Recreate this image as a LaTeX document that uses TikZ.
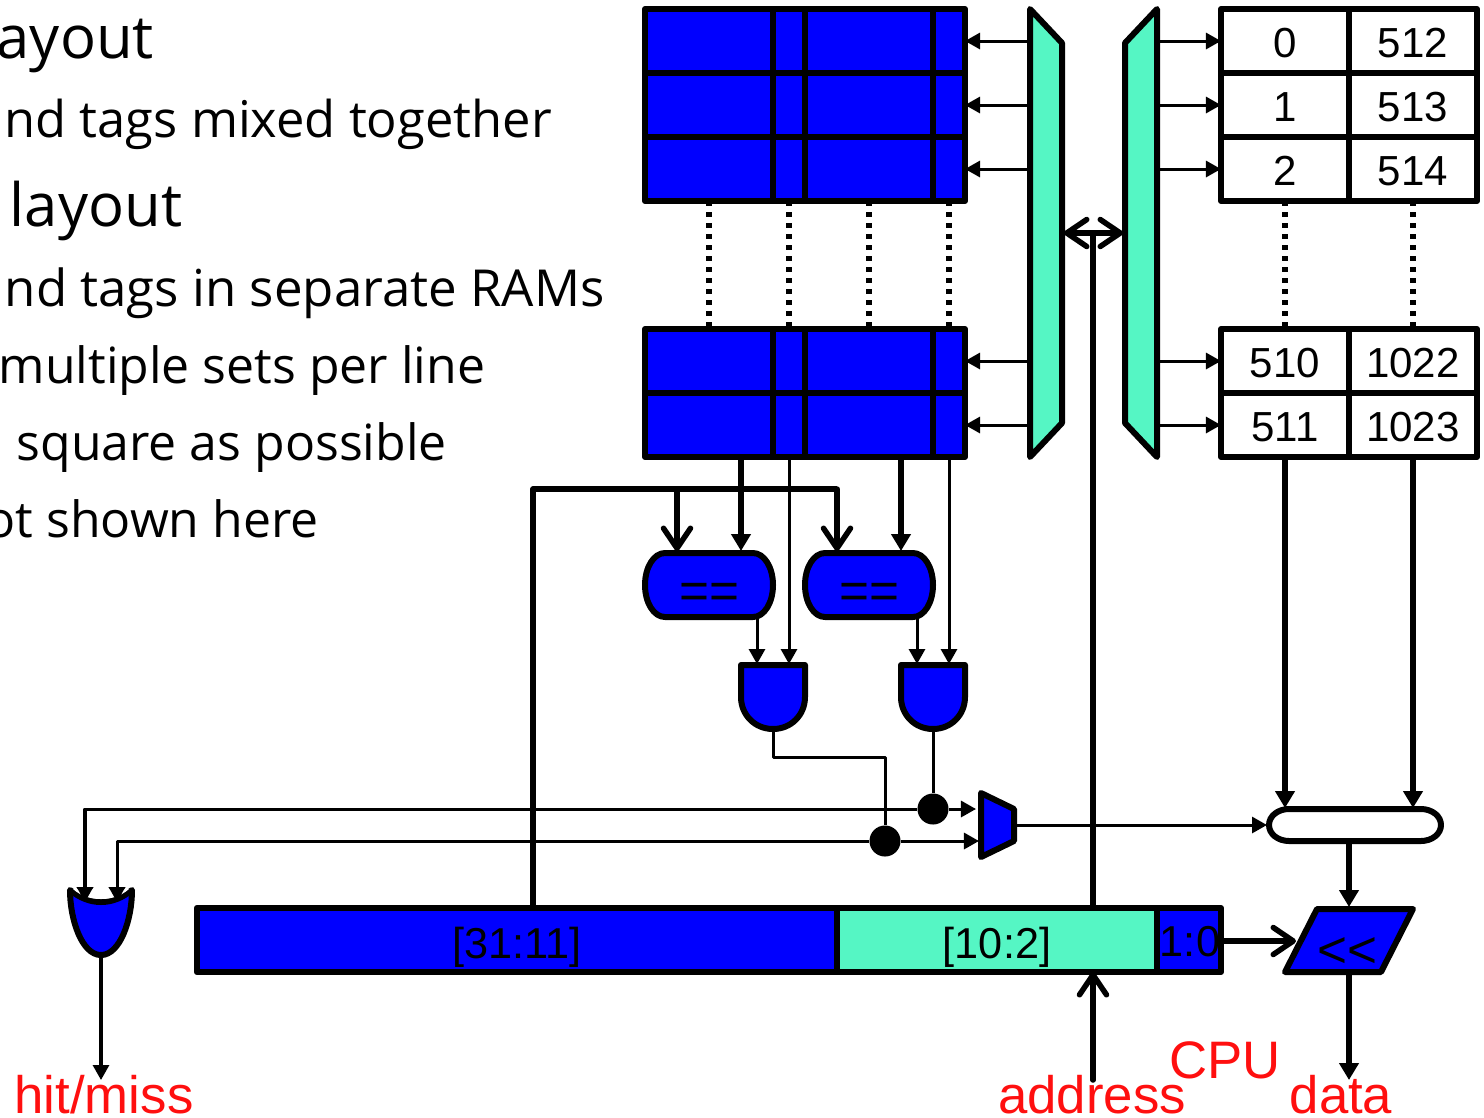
\documentclass[tikz,border=0pt]{standalone}
\usepackage{fontspec}
\setmainfont{Liberation Sans}
\newfontfamily\slidefont{Open Sans}
\usetikzlibrary{arrows.meta}
\definecolor{ramblue}{HTML}{0000FF}
\definecolor{muxteal}{HTML}{55F6C4}
\definecolor{labelred}{HTML}{FF0F0F}
\tikzset{
  every picture/.style={line join=round, x=0.01cm, y=-0.01cm},
  outl/.style={line width=0.06cm, draw=black},
  ramcell/.style={outl, fill=ramblue, rectangle, inner sep=0pt, outer sep=0pt, minimum height=0.64cm},
  tablecell/.style={outl, rectangle, inner sep=0pt, outer sep=0pt, minimum width=1.28cm, minimum height=0.64cm, font=\fontsize{11.95}{14}\selectfont},
  gate/.style={outl, fill=ramblue},
  muxbody/.style={outl, fill=muxteal},
  wire/.style={line width=0.03cm, -{Triangle[length=0.15cm,width=0.16cm]}},
  busline/.style={line width=0.055cm},
  bus/.style={busline, -{Triangle[length=0.17cm,width=0.19cm]}},
  openbus/.style={busline, line cap=round, -{Straight Barb[length=0.2cm,width=0.27cm,round]}},
  plainwire/.style={line width=0.03cm},
  dotline/.style={line width=0.055cm, dash pattern=on 0.05cm off 0.06cm},
  junction/.style={circle, fill=black, inner sep=0pt, minimum size=0.31cm},
  redlabel/.style={text=labelred, anchor=base, inner sep=0pt, font=\fontsize{15}{17}\selectfont},
  gatetext/.style={inner sep=0pt, font=\fontsize{14.6}{17}\selectfont},
  fieldtext/.style={inner sep=0pt, font=\fontsize{12.3}{14}\selectfont},
  bigline/.style={anchor=base west, inner sep=0pt, font=\slidefont\fontsize{17}{20}\selectfont},
  smallline/.style={anchor=base west, inner sep=0pt, font=\slidefont\fontsize{14.4}{17}\selectfont},
  narrowline/.style={anchor=base west, inner sep=0pt, font=\slidefont\fontsize{14.2}{17}\selectfont},
}
\begin{document}
\begin{tikzpicture}
\useasboundingbox (0,0) rectangle (1484,1117);
\node[bigline] (ln1) at (-4,58) {ayout};
\node[smallline] (ln2) at (4,137) {nd tags mixed together};
\node[bigline] (ln3) at (9,226) {layout};
\node[smallline,font=\slidefont\fontsize{14.5}{17}\selectfont] (ln4) at (4,306) {nd tags in separate RAMs};
\node[narrowline] (ln5) at (-2,383) {multiple sets per line};
\node[narrowline] (ln6) at (16,460) {square as possible};
\node[narrowline] (ln7) at (-15,537) {ot shown here};
\foreach \r/\y/\a/\b in {1/41/0/512,2/105/1/513,3/169/2/514,4/361/510/1022,5/425/511/1023}{
  \foreach \c/\x/\w in {1/709/1.28,2/789/0.32,3/869/1.28,4/949/0.32}
    \node[ramcell,minimum width=\w cm] (r\r-\c) at (\x,\y) {};
  \node[tablecell] (t\r-1) at (1285,\y) {\raisebox{-0.02cm}[\height][0pt]{\a}};
  \node[tablecell] (t\r-2) at (1413,\y) {\raisebox{-0.02cm}[\height][0pt]{\b}};
  \coordinate (ml\r) at (1030,\y);
  \coordinate (mr\r) at (1157,\y);
  \draw[wire] (ml\r) -- (r\r-4.east);
  \draw[wire] (mr\r) -- (t\r-1.west);
}
\foreach \c in {1,2,3,4}
  \draw[dotline] (r3-\c.south) -- (r4-\c.north);
\foreach \c in {1,2}
  \draw[dotline] (t3-\c.south) -- (t4-\c.north);
\draw[muxbody] (1030,9) -- (1062,43) -- (1062,423) -- (1030,457) -- cycle;
\draw[muxbody] (1157,9) -- (1125,43) -- (1125,423) -- (1157,457) -- cycle;
\node[ramcell,minimum width=6.4cm] (tagf) at (517,940) {};
\node[ramcell,minimum width=3.2cm,fill=muxteal] (idxf) at (997,940) {};
\node[ramcell,minimum width=0.64cm] (offf) at (1189,940) {};
\node[fieldtext] (tagt) at (517,947) {[31:11]};
\node[fieldtext] (idxt) at (997,947) {[10:2]};
\node[fieldtext] (offt) at (1190,942) {1:0};
\coordinate (dbl) at (1093,233);
\coordinate (mlin) at (1064,233);
\coordinate (mrin) at (1123,233);
\draw[busline] (idxf.north -| dbl) -- (dbl);
\draw[openbus] (dbl) -- (mlin);
\draw[openbus] (dbl) -- (mrin);
\foreach \x in {645,805}{
  \draw[gate] (\x+20,553) -- (\x+108,553) .. controls (\x+119,553) and (\x+128,567) .. (\x+128,585)
    .. controls (\x+128,603) and (\x+119,617) .. (\x+108,617) -- (\x+20,617)
    .. controls (\x+9,617) and (\x,603) .. (\x,585) .. controls (\x,567) and (\x+9,553) .. (\x+20,553) -- cycle;
  \draw[gate] (\x+96,665) -- (\x+160,665) -- (\x+160,697) .. controls (\x+160,715) and (\x+146,729) .. (\x+128,729)
    .. controls (\x+110,729) and (\x+96,715) .. (\x+96,697) -- cycle;
}
\node[gatetext] (eqa) at (709,596) {==};
\node[gatetext] (eqb) at (869,596) {==};
\coordinate (tagup) at (533,489);
\coordinate (cmpa1) at (677,551);
\coordinate (cmpa2) at (741,551);
\coordinate (cmpb1) at (837,551);
\coordinate (cmpb2) at (901,551);
\coordinate (anda1) at (757,664);
\coordinate (anda2) at (789,664);
\coordinate (andb1) at (917,664);
\coordinate (andb2) at (949,664);
\draw[busline] (tagf.north -| tagup) -- (tagup) -- (tagup -| cmpb1);
\draw[openbus] (tagup -| cmpa1) -- (cmpa1);
\draw[openbus] (tagup -| cmpb1) -- (cmpb1);
\draw[bus] (r5-1.south -| cmpa2) -- (cmpa2);
\draw[bus] (r5-3.south -| cmpb2) -- (cmpb2);
\draw[wire] (r5-2.south) -- (anda2);
\draw[wire] (r5-4.south) -- (andb2);
\draw[wire] (757,617) -- (anda1);
\draw[wire] (917,617) -- (andb1);
\node[junction] (hita) at (933,809) {};
\node[junction] (hitb) at (885,841) {};
\draw[plainwire] (933,729) -- (hita);
\draw[plainwire] (773,729) -- (773,757) -- (885,757) -- (hitb);
\draw[gate] (981,793) -- (1014,809) -- (1014,841) -- (981,857) -- cycle;
\draw[wire] (hita) -- (976,809);
\draw[wire] (hitb) -- (979,841);
\draw[wire] (hita) -- (85,809) -- (85,902);
\draw[wire] (hitb) -- (117,841) -- (117,902);
\draw[line width=0.06cm, fill=ramblue] (70,890) .. controls (80,898) and (90,902) .. (101,902) .. controls (112,902) and (122,898) .. (132,890)
  .. controls (132,920) and (120,955) .. (101,955) .. controls (82,955) and (70,920) .. (70,890) -- cycle;
\fill[white] (73,889) .. controls (82,897) and (92,899) .. (101,899) .. controls (110,899) and (120,897) .. (129,889) -- cycle;
\draw[wire] (85,870) -- (85,902);
\draw[wire] (117,870) -- (117,902);
\draw[outl, fill=white] (1289,809) -- (1421,809) .. controls (1432,809) and (1441,816) .. (1441,825) .. controls (1441,834) and (1432,841) .. (1421,841)
  -- (1289,841) .. controls (1278,841) and (1269,834) .. (1269,825) .. controls (1269,816) and (1278,809) .. (1289,809) -- cycle;
\draw[wire] (1014,825) -- (1267,825);
\draw[bus] (t5-1.south) -- (1285,808);
\draw[bus] (t5-2.south) -- (1413,808);
\draw[bus] (1349,841) -- (1349,907);
\draw[outl, fill=ramblue] (1317,909) -- (1413,909) -- (1381,972) -- (1285,972) -- cycle;
\node[gatetext] (shl) at (1347,953) {{<}{<}};
\coordinate (shlin) at (1296,941);
\draw[openbus] (offf.east |- shlin) -- (shlin);
\coordinate (addrend) at (1093,1080);
\coordinate (dataend) at (1349,1080);
\coordinate (hitend) at (101,1080);
\draw[openbus] (addrend) -- (idxf.south -| addrend);
\draw[bus] (1349,972) -- (dataend);
\draw[wire] (101,955) -- (hitend);
\node[redlabel] (hitl) at (104,1113) {hit/miss};
\node[redlabel] (addrl) at (1092,1113) {address};
\node[redlabel] (datal) at (1341,1113) {data};
\node[redlabel] (cpul) at (1225,1078) {CPU};
\end{tikzpicture}
\end{document}
